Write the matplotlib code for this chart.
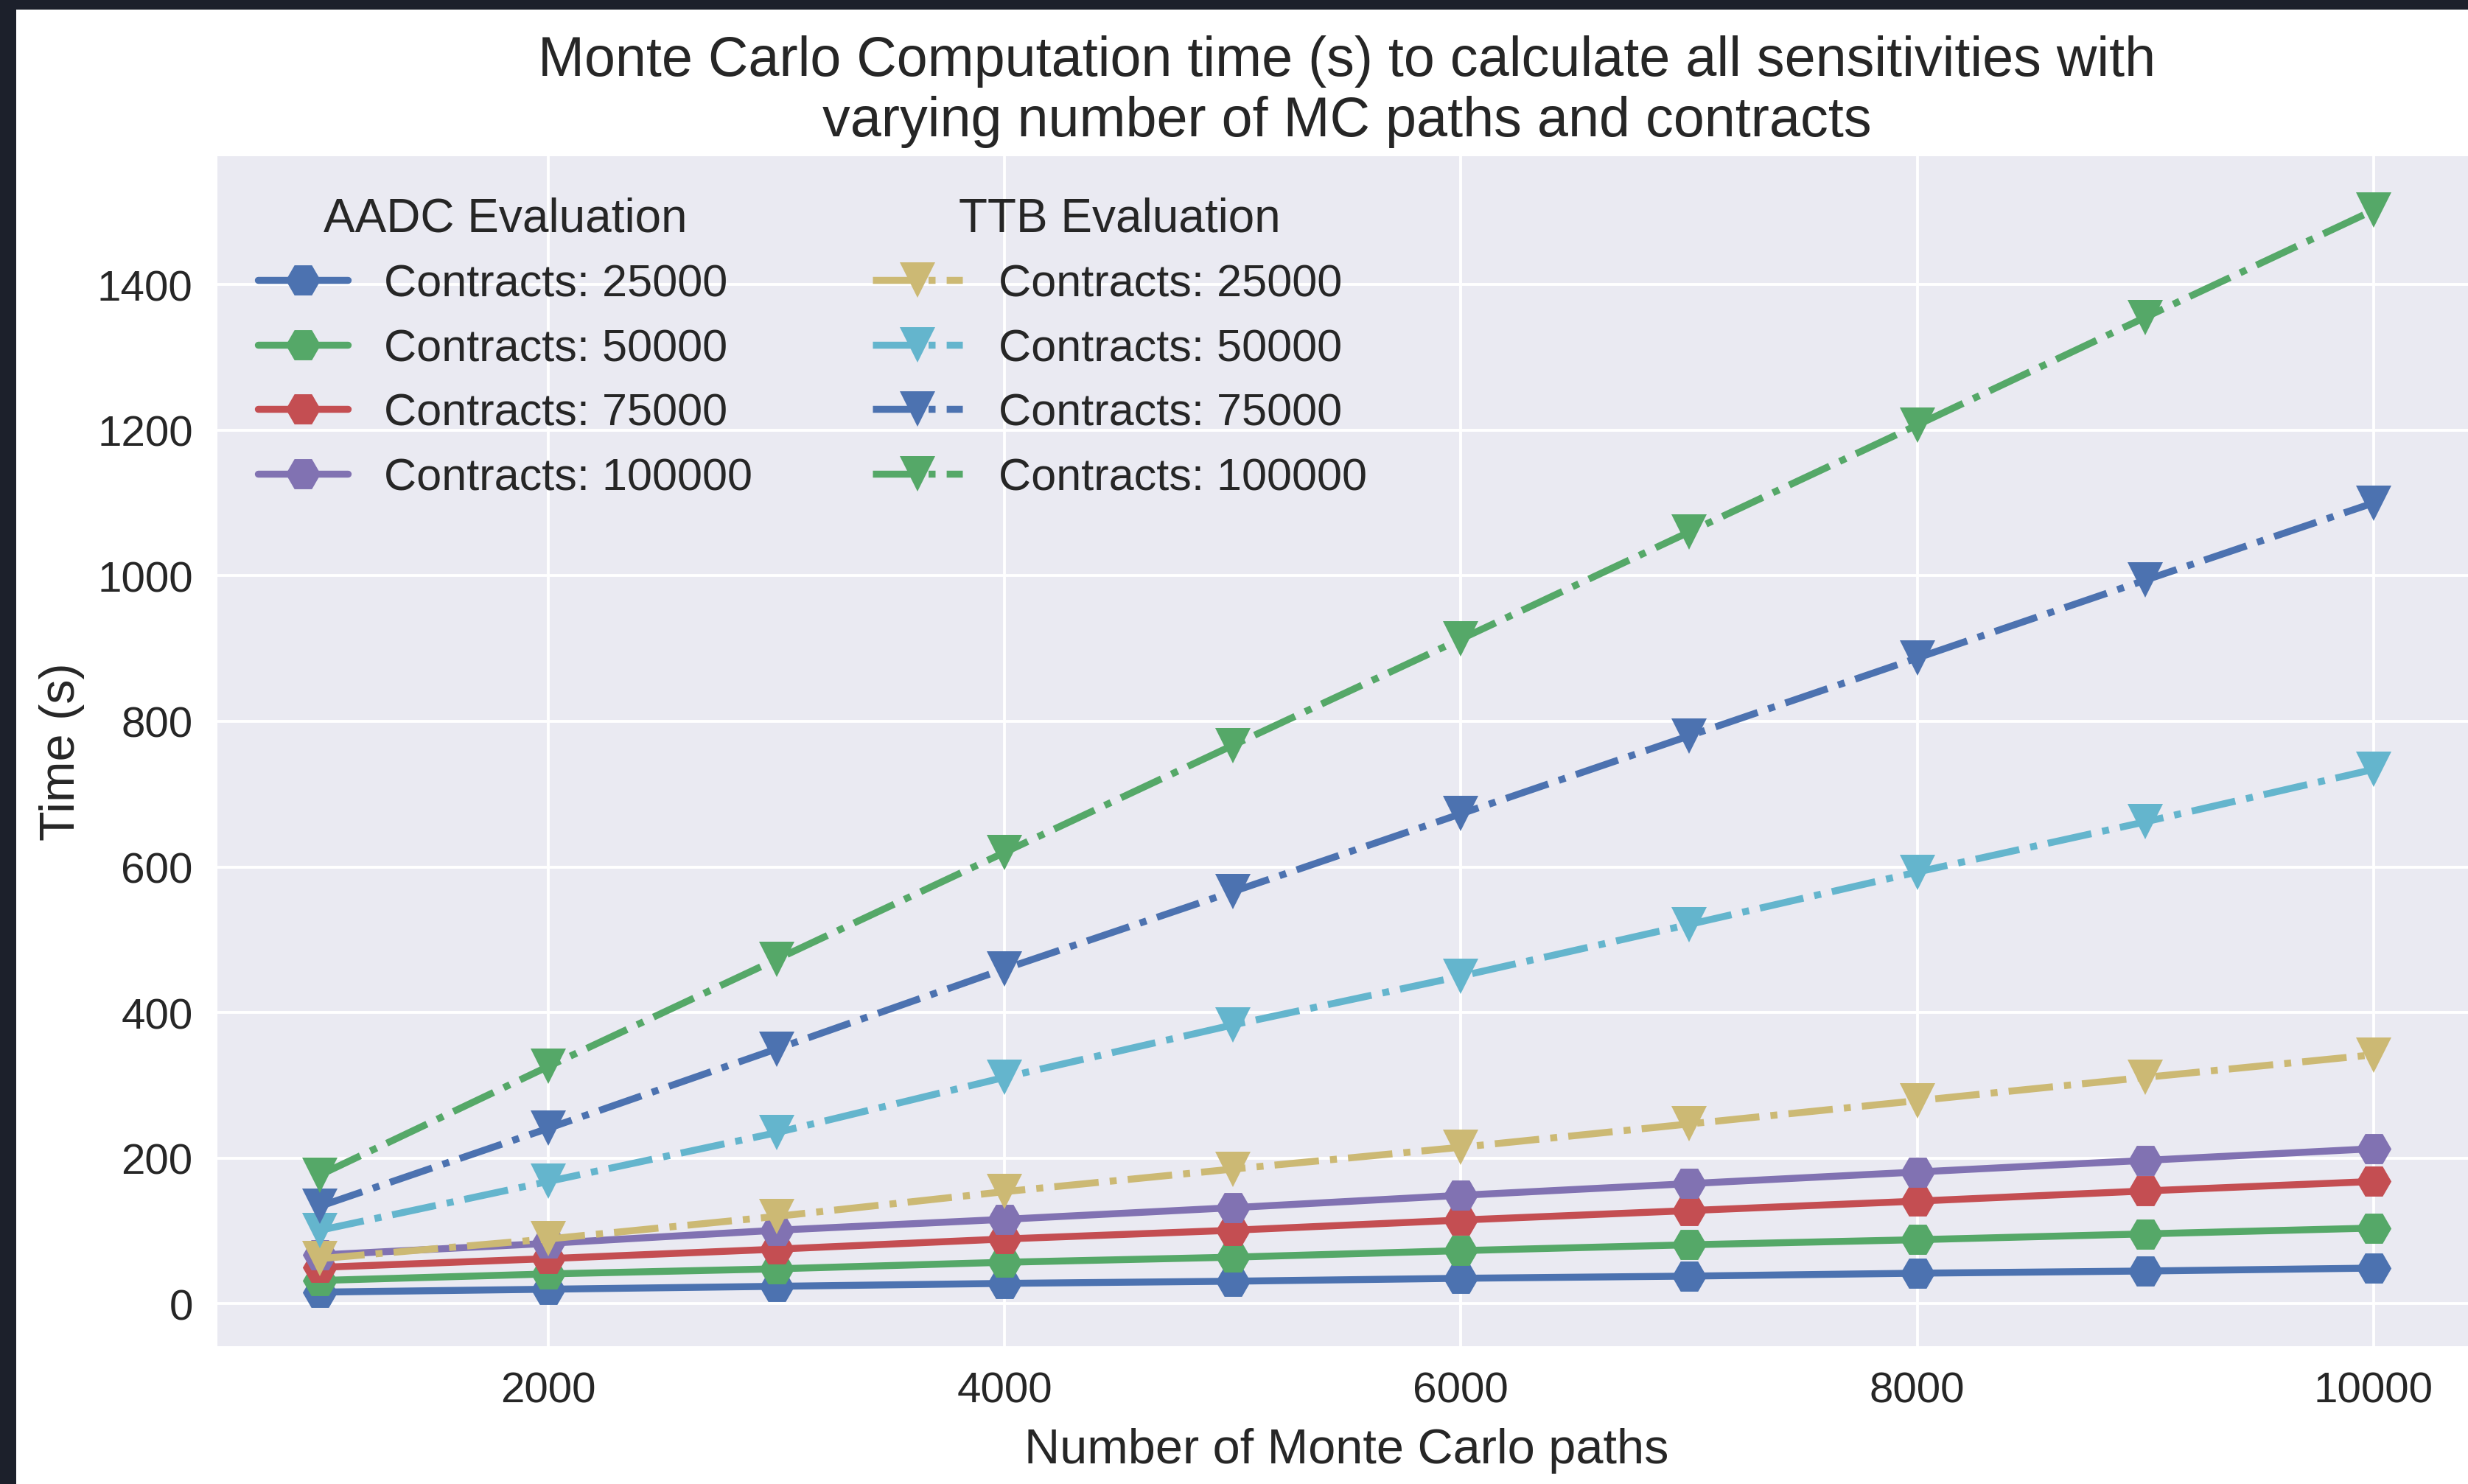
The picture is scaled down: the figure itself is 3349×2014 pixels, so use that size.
import matplotlib
matplotlib.use("Agg")
import matplotlib.pyplot as plt
from matplotlib.patches import Rectangle

plt.style.use("seaborn-v0_8")
plt.rcParams["font.family"] = ["Liberation Sans", "DejaVu Sans"]

# number of Monte Carlo paths
paths = [1000, 2000, 3000, 4000, 5000, 6000, 7000, 8000, 9000, 10000]

# AADC evaluation times (s)
aadc_25k = [16, 20, 24, 28, 31, 35, 38, 42, 45, 49]
aadc_50k = [32, 41, 48, 57, 64, 73, 81, 88, 96, 104]
aadc_75k = [50, 62, 75, 89, 101, 115, 128, 141, 155, 168]
aadc_100k = [67, 83, 101, 116, 132, 149, 165, 181, 197, 213]

# TTB evaluation times (s)
ttb_25k = [62, 89, 120, 154, 185, 215, 247, 279, 311, 342]
ttb_50k = [101, 168, 235, 311, 383, 450, 521, 593, 662, 734]
ttb_75k = [134, 241, 350, 460, 566, 673, 780, 887, 994, 1100]
ttb_100k = [177, 326, 473, 620, 767, 913, 1060, 1207, 1355, 1502]

contracts = ["25000", "50000", "75000", "100000"]
aadc = [aadc_25k, aadc_50k, aadc_75k, aadc_100k]
ttb = [ttb_25k, ttb_50k, ttb_75k, ttb_100k]

aadc_colors = ["#4C72B0", "#55A868", "#C44E52", "#8172B2"]
ttb_colors = ["#CCB974", "#64B5CD", "#4C72B0", "#55A868"]

fig = plt.figure(figsize=(16.745, 10.075), dpi=200, facecolor="white")
ax = fig.add_axes([0.0881, 0.0928, 0.9152, 0.8015])

aadc_lines = []
for c, vals, col in zip(contracts, aadc, aadc_colors):
    (ln,) = ax.plot(paths, vals, marker="H", linestyle="-", color=col,
                    lw=3.4, ms=17, label="Contracts: " + c)
    aadc_lines.append(ln)

ttb_lines = []
for c, vals, col in zip(contracts, ttb, ttb_colors):
    (ln,) = ax.plot(paths, vals, marker="v", linestyle="-.", color=col,
                    lw=3.4, ms=17, label="Contracts: " + c)
    ttb_lines.append(ln)

ax.set_xticks([2000, 4000, 6000, 8000, 10000])
ax.set_yticks(range(0, 1401, 200))
ax.tick_params(axis="both", labelsize=21, pad=12, colors=".15")
ax.grid(True, color="white", linewidth=1.4)

ax.set_xlabel("Number of Monte Carlo paths", fontsize=24, color=".15", labelpad=8)
ax.set_ylabel("Time (s)", fontsize=24, color=".15", labelpad=6)
ax.set_title("Monte Carlo Computation time (s) to calculate all sensitivities with\n"
             "varying number of MC paths and contracts",
             fontsize=27.2, color=".15", pad=10)

leg1 = ax.legend(handles=aadc_lines, title="AADC Evaluation", loc="upper left",
                 fontsize=22, title_fontsize=23, frameon=False)
ax.add_artist(leg1)
ax.legend(handles=ttb_lines, title="TTB Evaluation", loc="upper left",
          bbox_to_anchor=(0.272, 1.0), fontsize=22, title_fontsize=23,
          frameon=False)

# dark screenshot border on left and top
fig.patches.append(Rectangle((0, 0), 22 / 3349, 1, transform=fig.transFigure,
                             facecolor="#1c202b", edgecolor="none", zorder=10))
fig.patches.append(Rectangle((0, 1 - 14 / 2015), 1, 14 / 2015,
                             transform=fig.transFigure, facecolor="#1c202b",
                             edgecolor="none", zorder=10))

fig.savefig("out.png", dpi=200, facecolor="white")
